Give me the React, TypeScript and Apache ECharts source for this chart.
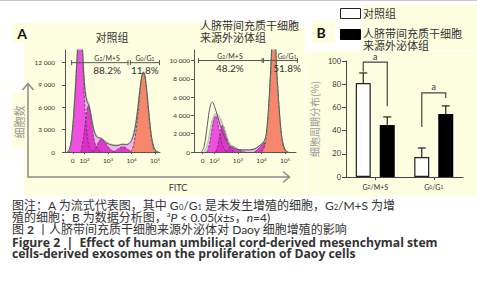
import React, { useEffect, useRef } from "react";
import * as echarts from "echarts";

// ---------------- Panel A: flow cytometry histograms ----------------
// x values are FITC decades (3 = 10^3), y values are cell counts
const fitcTickValues = [1.5, 2, 3, 4, 5];
const fitcTickLabels = ["0", "10{sup|2}", "10{sup|3}", "10{sup|4}", "10{sup|5}"];
const ctrlCountTicks = [0, 3000, 6000, 9000, 12000];
const exoCountTicks = [0, 2000, 4000, 6000, 8000, 10000];

const ctrlData: number[][] = [[1.25,0],[1.35,300],[1.45,1800],[1.55,5500],[1.65,10500],[1.72,14500],[1.8,16500],[1.88,15500],[1.95,11500],[2.02,8200],[2.1,6800],[2.18,6300],[2.26,5200],[2.34,3800],[2.42,2700],[2.5,2100],[2.6,1900],[2.7,1850],[2.8,1600],[2.9,1300],[3.0,1100],[3.15,950],[3.3,850],[3.45,900],[3.6,1050],[3.75,1000],[3.85,1050],[3.95,1300],[4.05,1900],[4.15,3200],[4.25,5400],[4.35,8200],[4.43,10100],[4.5,10700],[4.57,10200],[4.65,8100],[4.75,4800],[4.85,2000],[4.95,600],[5.05,100],[5.15,0]];
const ctrlFit: number[][] = [[1.3,0],[1.4,800],[1.5,3500],[1.6,8500],[1.7,13500],[1.8,16500],[1.9,14500],[2.0,9500],[2.1,7200],[2.2,6400],[2.3,4700],[2.4,3100],[2.5,2300],[2.6,2000],[2.7,1900],[2.8,1700],[3.0,1200],[3.2,1000],[3.4,950],[3.6,1050],[3.8,1050],[3.95,1400],[4.05,2100],[4.15,3500],[4.25,5700],[4.35,8400],[4.45,10400],[4.5,10800],[4.57,10300],[4.65,8200],[4.75,4900],[4.85,2100],[4.95,700],[5.05,150],[5.15,0]];
const ctrlComp1: number[][] = [[1.3,0],[1.4,700],[1.5,3200],[1.6,8000],[1.68,12500],[1.76,16000],[1.84,16000],[1.92,12500],[2.0,7000],[2.08,3200],[2.16,1200],[2.26,300],[2.4,0]];
const ctrlComp2: number[][] = [[1.85,0],[1.95,1800],[2.05,4300],[2.15,6200],[2.24,5400],[2.33,3300],[2.42,1500],[2.55,400],[2.7,0]];
const ctrlComp3: number[][] = [[2.35,0],[2.5,700],[2.62,1500],[2.74,1700],[2.86,1300],[3.0,700],[3.15,250],[3.3,0]];
const ctrlComp4: number[][] = [[3.2,0],[3.4,350],[3.55,650],[3.68,700],[3.8,450],[3.95,150],[4.05,0]];
const ctrlG0G1: number[][] = [[3.95,0],[4.05,500],[4.15,2000],[4.25,4500],[4.35,7800],[4.43,10000],[4.5,10600],[4.57,10100],[4.65,7800],[4.75,4500],[4.85,1700],[4.95,400],[5.05,0]];

const exoData: number[][] = [[1.45,0],[1.55,500],[1.65,2000],[1.75,4000],[1.84,5200],[1.92,5450],[2.0,5000],[2.1,4200],[2.2,3300],[2.3,2500],[2.4,1800],[2.5,1250],[2.6,850],[2.75,500],[2.95,300],[3.2,220],[3.5,230],[3.7,320],[3.85,550],[4.0,850],[4.1,1100],[4.2,1900],[4.3,4800],[4.4,9300],[4.48,12300],[4.56,12300],[4.65,8800],[4.75,4900],[4.85,1900],[4.95,600],[5.05,100],[5.15,0]];
const exoFit: number[][] = [[1.55,0],[1.65,500],[1.75,1500],[1.85,2900],[1.95,3800],[2.05,4200],[2.15,4100],[2.25,3700],[2.35,3100],[2.45,2300],[2.55,1600],[2.65,1000],[2.8,550],[3.0,320],[3.3,250],[3.6,300],[3.8,500],[3.95,800],[4.08,1100],[4.18,1500],[4.3,4600],[4.4,9200],[4.48,12300],[4.56,12300],[4.65,8800],[4.75,4900],[4.85,1900],[4.95,650],[5.05,120],[5.15,0]];
const exoComp1: number[][] = [[1.7,0],[1.8,1000],[1.9,2600],[1.98,3700],[2.06,3900],[2.14,3300],[2.24,1900],[2.34,750],[2.46,150],[2.55,0]];
const exoComp2: number[][] = [[2.05,0],[2.15,800],[2.25,2100],[2.35,2950],[2.44,2500],[2.54,1400],[2.64,600],[2.78,120],[2.9,0]];
const exoComp3: number[][] = [[2.5,0],[2.62,400],[2.76,650],[2.9,500],[3.08,200],[3.3,0]];
const exoComp4: number[][] = [[3.7,0],[3.85,300],[4.0,700],[4.12,1000],[4.2,750],[4.28,250],[4.34,0]];
const exoG0G1: number[][] = [[4.0,0],[4.1,400],[4.2,1500],[4.3,4300],[4.4,8900],[4.48,12200],[4.56,12200],[4.65,8700],[4.75,4800],[4.85,1800],[4.95,500],[5.05,0]];

// gates: [start, end, level, labelX]
const gateNames = ["G{sub|2}/M+S", "G{sub|0}/G{sub|1}"];
const ctrlGates: number[][] = [[1.43, 3.87, 12000, 2.96], [3.93, 5.21, 12000, 4.57]];
const ctrlGatePct = ["88.2%", "11.8%"];
const exoGates: number[][] = [[1.3, 4.05, 10000, 2.66], [4.07, 5.55, 10000, 5.09]];
const exoGatePct = ["48.2%", "51.8%"];

// ---------------- Panel B: cell cycle distribution ----------------
const phases = ["G2/M+S", "G0/G1"];
const phaseLabels = ["G{sub|2}/M+S", "G{sub|0}/G{sub|1}"];
const controlMean = [81, 17.2];
const controlSD = [8.7, 7.8];
const exoMean = [44.8, 54.3];
const exoSD = [7, 7];
const sigTop = [99, 72.5];
const sigLeftBottom = [91, 43];
const sigRightBottom = [61, 68];
const sigMark = ["a", "a"];

const groupNames = ["对照组", "人脐带间充质干细胞\n来源外泌体组"];

const captionCN = [
  "图注：A 为流式代表图，其中 G{sub|0}/G{sub|1} 是未发生增殖的细胞，G{sub|2}/M+S 为增",
  "殖的细胞；B 为数据分析图，{sup|a}{i|P} < 0.05({i|x\u0304}±{i|s}，{i|n}=4)",
  "图 {b|2} 丨人脐带间充质干细胞来源外泌体对 Daoy 细胞增殖的影响",
];
const captionEN = [
  "Figure 2  |  Effect of human umbilical cord-derived mesenchymal stem",
  "cells-derived exosomes on the proliferation of Daoy cells",
];

const FONT = "Lato, 'Noto Sans CJK SC', sans-serif";
const CJK = "'Noto Sans CJK SC', Lato, sans-serif";
const EN_BOLD = "'Open Sans', 'Noto Sans CJK SC', sans-serif";
const YELLOW = "#FEFEE0";
const INK = "#333";

const fmtThousands = (v: number) =>
  v >= 1000 ? `${Math.floor(v / 1000)} ${String(v % 1000).padStart(3, "0")}` : `${v}`;

function nearestLabel(v: number) {
  let best = 0;
  fitcTickValues.forEach((t, i) => {
    if (Math.abs(t - v) < Math.abs(fitcTickValues[best] - v)) best = i;
  });
  return fitcTickLabels[best];
}

function histAxes(g: number, xmin: number, xmax: number, ymax: number, ticks: number[], ymargin: number) {
  const x = {
    type: "value", gridIndex: g, min: xmin, max: xmax,
    axisLine: { onZero: false, lineStyle: { color: "#555", width: 1 } },
    axisTick: { show: true, customValues: fitcTickValues, length: 2, lineStyle: { color: "#555" } },
    axisLabel: {
      customValues: fitcTickValues, formatter: (v: number) => nearestLabel(v),
      fontSize: 6.5, color: INK, margin: 5, fontFamily: FONT,
      rich: { sup: { fontSize: 4.5, verticalAlign: "top", fontFamily: FONT, color: INK } },
    },
    splitLine: { show: false },
  };
  const y = {
    type: "value", gridIndex: g, min: 0, max: ymax,
    axisLine: { show: true, lineStyle: { color: "#555", width: 1 } },
    axisTick: { show: true, customValues: ticks, length: 3, lineStyle: { color: "#555" } },
    axisLabel: { customValues: ticks, formatter: fmtThousands, fontSize: 6.5, color: INK, margin: ymargin, fontFamily: FONT },
    splitLine: { show: false },
  };
  return { x, y };
}

function curve(g: number, data: number[][], opts: any) {
  return {
    type: "line", xAxisIndex: g, yAxisIndex: g, data, smooth: 0.35, symbol: "none",
    silent: true, z: opts.z ?? 2, clip: true,
    lineStyle: {
      color: opts.line ?? "#000", width: opts.width ?? 0.8,
      type: opts.dashed ? "dashed" : "solid", opacity: opts.line ? 1 : 0,
    },
    areaStyle: opts.fill ? { color: opts.fill, opacity: opts.fillOpacity ?? 1 } : undefined,
  };
}

function gateSeries(g: number, gates: number[][], pcts: string[]) {
  return {
    type: "custom", xAxisIndex: g, yAxisIndex: g, data: gates, z: 20, silent: true,
    renderItem: (params: any, api: any) => {
      const lvl = api.value(2);
      const a = api.coord([api.value(0), lvl]);
      const b = api.coord([api.value(1), lvl]);
      const l = api.coord([api.value(3), lvl]);
      const i = params.dataIndex;
      const st = { stroke: "#555", lineWidth: 1 };
      return {
        type: "group",
        children: [
          { type: "line", shape: { x1: a[0], y1: a[1], x2: b[0], y2: b[1] }, style: st },
          { type: "line", shape: { x1: a[0] + 0.5, y1: a[1] - 2.5, x2: a[0] + 0.5, y2: a[1] + 2.5 }, style: st },
          { type: "line", shape: { x1: b[0] - 0.5, y1: b[1] - 2.5, x2: b[0] - 0.5, y2: b[1] + 2.5 }, style: st },
          {
            type: "text",
            style: {
              text: gateNames[i], x: l[0], y: a[1] - 1.5, align: "center", verticalAlign: "bottom",
              fontSize: 7, fill: INK, fontFamily: FONT,
              rich: { sub: { fontSize: 5, verticalAlign: "bottom", fill: INK, fontFamily: FONT } },
            },
          },
          {
            type: "text",
            style: {
              text: pcts[i], x: l[0], y: a[1] + 2.5, align: "center", verticalAlign: "top",
              fontSize: 10, fill: INK, fontFamily: FONT,
            },
          },
        ],
      };
    },
  };
}

function histSeries(g: number, data: number[][], fit: number[][], comps: number[][][], g0: number[][], gates: number[][], pcts: string[]) {
  const arr: any[] = [];
  arr.push(curve(g, fit, { fill: "#F6B2EE", z: 2 }));
  comps.forEach((c, i) =>
    arr.push(curve(g, c, { fill: i === 0 ? "#EE3EDC" : "#DC22C4", fillOpacity: 0.85, line: "#444", dashed: true, width: 0.7, z: 3 }))
  );
  arr.push(curve(g, g0, { fill: "#F7876C", line: "#333", dashed: true, width: 0.7, z: 4 }));
  arr.push(curve(g, fit, { line: "#98D890", width: 1, z: 5 }));
  arr.push(curve(g, data, { line: "#5a5a5a", width: 1, z: 6 }));
  arr.push(gateSeries(g, gates, pcts));
  return arr;
}

export default function App() {
  const ref = useRef<HTMLDivElement>(null);

  useEffect(() => {
    if (!ref.current) return;
    const chart = echarts.init(ref.current, undefined, { renderer: "svg" });

    const h0 = histAxes(0, 1.17, 5.21, 13700, ctrlCountTicks, 10);
    const h1 = histAxes(1, 1.13, 5.47, 11150, exoCountTicks, 4);

    const subRich = { sub: { fontSize: 5, verticalAlign: "bottom", fontFamily: FONT, color: INK } };

    const barX = {
      type: "category", gridIndex: 2, data: phases,
      axisLine: { lineStyle: { color: "#444", width: 1 } },
      axisTick: { show: true, alignWithLabel: true, interval: 0, length: 3, lineStyle: { color: "#444" } },
      axisLabel: {
        interval: 0, hideOverlap: false,
        formatter: (v: string) => phaseLabels[phases.indexOf(v)], fontSize: 7, color: INK, margin: 6,
        fontFamily: FONT, rich: subRich,
      },
    };
    const barY = {
      type: "value", gridIndex: 2, min: 0, max: 100, interval: 20,
      name: "细胞周期分布(%)", nameLocation: "middle", nameGap: 27,
      nameTextStyle: { fontSize: 10, color: "#999", fontFamily: CJK },
      axisLine: { show: true, lineStyle: { color: "#444", width: 1 } },
      axisTick: { show: true, length: 4, lineStyle: { color: "#444" } },
      axisLabel: { fontSize: 7.5, color: INK, margin: 5, fontFamily: FONT },
      splitLine: { show: false },
    };

    const errorSeries = (means: number[], sds: number[], off: number) => ({
      type: "custom", xAxisIndex: 2, yAxisIndex: 2, z: 10, silent: true,
      data: means.map((m, i) => [i, m, sds[i]]),
      renderItem: (params: any, api: any) => {
        const b = api.coord([api.value(0), api.value(1)]);
        const t = api.coord([api.value(0), api.value(1) + api.value(2)]);
        const cx = b[0] + off;
        const st = { stroke: "#222", lineWidth: 1.2 };
        return {
          type: "group",
          children: [
            { type: "line", shape: { x1: cx, y1: b[1], x2: cx, y2: t[1] }, style: st },
            { type: "line", shape: { x1: cx - 4, y1: t[1], x2: cx + 4, y2: t[1] }, style: st },
          ],
        };
      },
    });

    const sigSeries = {
      type: "custom", xAxisIndex: 2, yAxisIndex: 2, z: 10, silent: true,
      data: sigTop.map((t, i) => [i, sigLeftBottom[i], sigRightBottom[i], t]),
      renderItem: (params: any, api: any) => {
        const i = api.value(0);
        const lb = api.coord([i, api.value(1)]);
        const rb = api.coord([i, api.value(2)]);
        const tp = api.coord([i, api.value(3)]);
        const lx = tp[0] - 12, rx = tp[0] + 12;
        return {
          type: "group",
          children: [
            {
              type: "polyline",
              shape: { points: [[lx, lb[1]], [lx, tp[1]], [rx, tp[1]], [rx, rb[1]]] },
              style: { stroke: "#444", lineWidth: 1.2, fill: "none" },
            },
            {
              type: "text",
              style: {
                text: sigMark[params.dataIndex], x: tp[0], y: tp[1] - 1.5, align: "center",
                verticalAlign: "bottom", fontSize: 9, fill: INK, fontFamily: FONT,
              },
            },
          ],
        };
      },
    };

    const LH = 12;
    const captionRich = {
      sub: { fontSize: 7.5, lineHeight: LH, verticalAlign: "bottom", fontFamily: FONT, fill: INK },
      sup: { fontSize: 7.5, lineHeight: LH, verticalAlign: "top", fontFamily: FONT, fill: INK },
      i: { fontStyle: "italic", fontSize: 12, lineHeight: LH, verticalAlign: "middle", fontFamily: FONT, fill: INK },
      b: { fontWeight: "bold", fontSize: 12, lineHeight: LH, verticalAlign: "middle", fontFamily: FONT, fill: INK },
    };

    const graphic: any[] = [
      { type: "line", shape: { x1: 0, y1: 0.5, x2: 477, y2: 0.5 }, style: { stroke: "#c8c8c8", lineWidth: 1 }, z: -5 },
      // panel backgrounds
      { type: "rect", shape: { x: 12, y: 23, width: 293, height: 20 }, style: { fill: YELLOW }, z: -10 },
      { type: "rect", shape: { x: 24, y: 23, width: 281, height: 173 }, style: { fill: YELLOW }, z: -10 },
      { type: "rect", shape: { x: 12, y: 92, width: 13, height: 56 }, style: { fill: YELLOW }, z: -10 },
      { type: "rect", shape: { x: 312, y: 20, width: 23, height: 23 }, style: { fill: YELLOW }, z: -10 },
      { type: "rect", shape: { x: 362, y: 5, width: 115, height: 45 }, style: { fill: YELLOW }, z: -10 },
      { type: "rect", shape: { x: 306, y: 51, width: 171, height: 145 }, style: { fill: YELLOW }, z: -10 },
      // panel letters
      { type: "text", x: 22, y: 33, style: { text: "A", fontSize: 14, fontWeight: "bold", fontFamily: FONT, fill: "#111", align: "center", verticalAlign: "middle" } },
      { type: "text", x: 321, y: 32, style: { text: "B", fontSize: 14, fontWeight: "bold", fontFamily: FONT, fill: "#111", align: "center", verticalAlign: "middle" } },
      // histogram titles
      { type: "text", x: 112, y: 37, style: { text: groupNames[0], fontSize: 11, fontFamily: CJK, fill: INK, align: "center", verticalAlign: "middle" } },
      { type: "text", x: 200, y: 19, style: { text: groupNames[1], fontSize: 11, lineHeight: 12, fontFamily: CJK, fill: INK, align: "left", verticalAlign: "top" } },
      // FITC / cell count arrows
      { type: "polyline", shape: { points: [[28, 84], [28, 177], [289, 177]] }, style: { stroke: "#8c8c8c", lineWidth: 1.5, fill: "none" } },
      { type: "polyline", shape: { points: [[22.5, 90], [28, 83.5], [33.5, 90]] }, style: { stroke: "#8c8c8c", lineWidth: 1.5, fill: "none" } },
      { type: "polyline", shape: { points: [[283, 171.5], [289.5, 177], [283, 182.5]] }, style: { stroke: "#8c8c8c", lineWidth: 1.5, fill: "none" } },
      { type: "text", x: 178, y: 187, style: { text: "FITC", fontSize: 9, fontFamily: FONT, fill: INK, align: "center", verticalAlign: "middle" } },
      { type: "text", x: 19, y: 122, rotation: Math.PI / 2, style: { text: "细胞数", fontSize: 11, fontFamily: CJK, fill: "#999", align: "center", verticalAlign: "middle" } },
      // legend of panel B
      { type: "rect", shape: { x: 340.5, y: 8.5, width: 20, height: 10 }, style: { fill: "#fff", stroke: "#222", lineWidth: 1 } },
      { type: "rect", shape: { x: 340.5, y: 29.5, width: 20, height: 10 }, style: { fill: "#000", stroke: "#000", lineWidth: 1 } },
      { type: "text", x: 363, y: 13, style: { text: groupNames[0], fontSize: 11, lineHeight: 11, fontFamily: CJK, fill: INK, verticalAlign: "middle" } },
      { type: "text", x: 363, y: 27, style: { text: groupNames[1], fontSize: 11, lineHeight: 12, fontFamily: CJK, fill: INK, verticalAlign: "top" } },
      // caption
      {
        type: "text", x: 12, y: 199,
        style: {
          text: captionCN.join("\n"), fontSize: 12, lineHeight: LH, fontFamily: FONT, fill: INK,
          verticalAlign: "top", rich: captionRich,
        },
      },
      {
        type: "text", x: 12, y: 236.5,
        style: {
          text: captionEN.join("\n"), fontSize: 12.2, lineHeight: 11.5, fontFamily: EN_BOLD, fill: INK,
          fontWeight: "bold", verticalAlign: "top",
        },
      },
    ];

    chart.setOption({
      animation: false,
      backgroundColor: "#fff",
      grid: [
        { left: 65, top: 50, width: 95, height: 102 },
        { left: 194, top: 50, width: 102, height: 102 },
        { left: 346, top: 61, width: 117, height: 116 },
      ],
      xAxis: [h0.x, h1.x, barX],
      yAxis: [h0.y, h1.y, barY],
      series: [
        ...histSeries(0, ctrlData, ctrlFit, [ctrlComp1, ctrlComp2, ctrlComp3, ctrlComp4], ctrlG0G1, ctrlGates, ctrlGatePct),
        ...histSeries(1, exoData, exoFit, [exoComp1, exoComp2, exoComp3, exoComp4], exoG0G1, exoGates, exoGatePct),
        {
          name: groupNames[0], type: "bar", xAxisIndex: 2, yAxisIndex: 2, data: controlMean,
          barWidth: 15, barGap: "60%", itemStyle: { color: "#fff", borderColor: "#222", borderWidth: 1.2 },
        },
        {
          name: groupNames[1], type: "bar", xAxisIndex: 2, yAxisIndex: 2, data: exoMean,
          barWidth: 15, barGap: "60%", itemStyle: { color: "#000" },
        },
        errorSeries(controlMean, controlSD, -12),
        errorSeries(exoMean, exoSD, 12),
        sigSeries,
      ],
      graphic,
    });

    return () => chart.dispose();
  }, []);

  return (
    <div
      ref={ref}
      style={{ position: "fixed", left: 0, top: 0, width: 477, height: 300, background: "#fff" }}
    />
  );
}
